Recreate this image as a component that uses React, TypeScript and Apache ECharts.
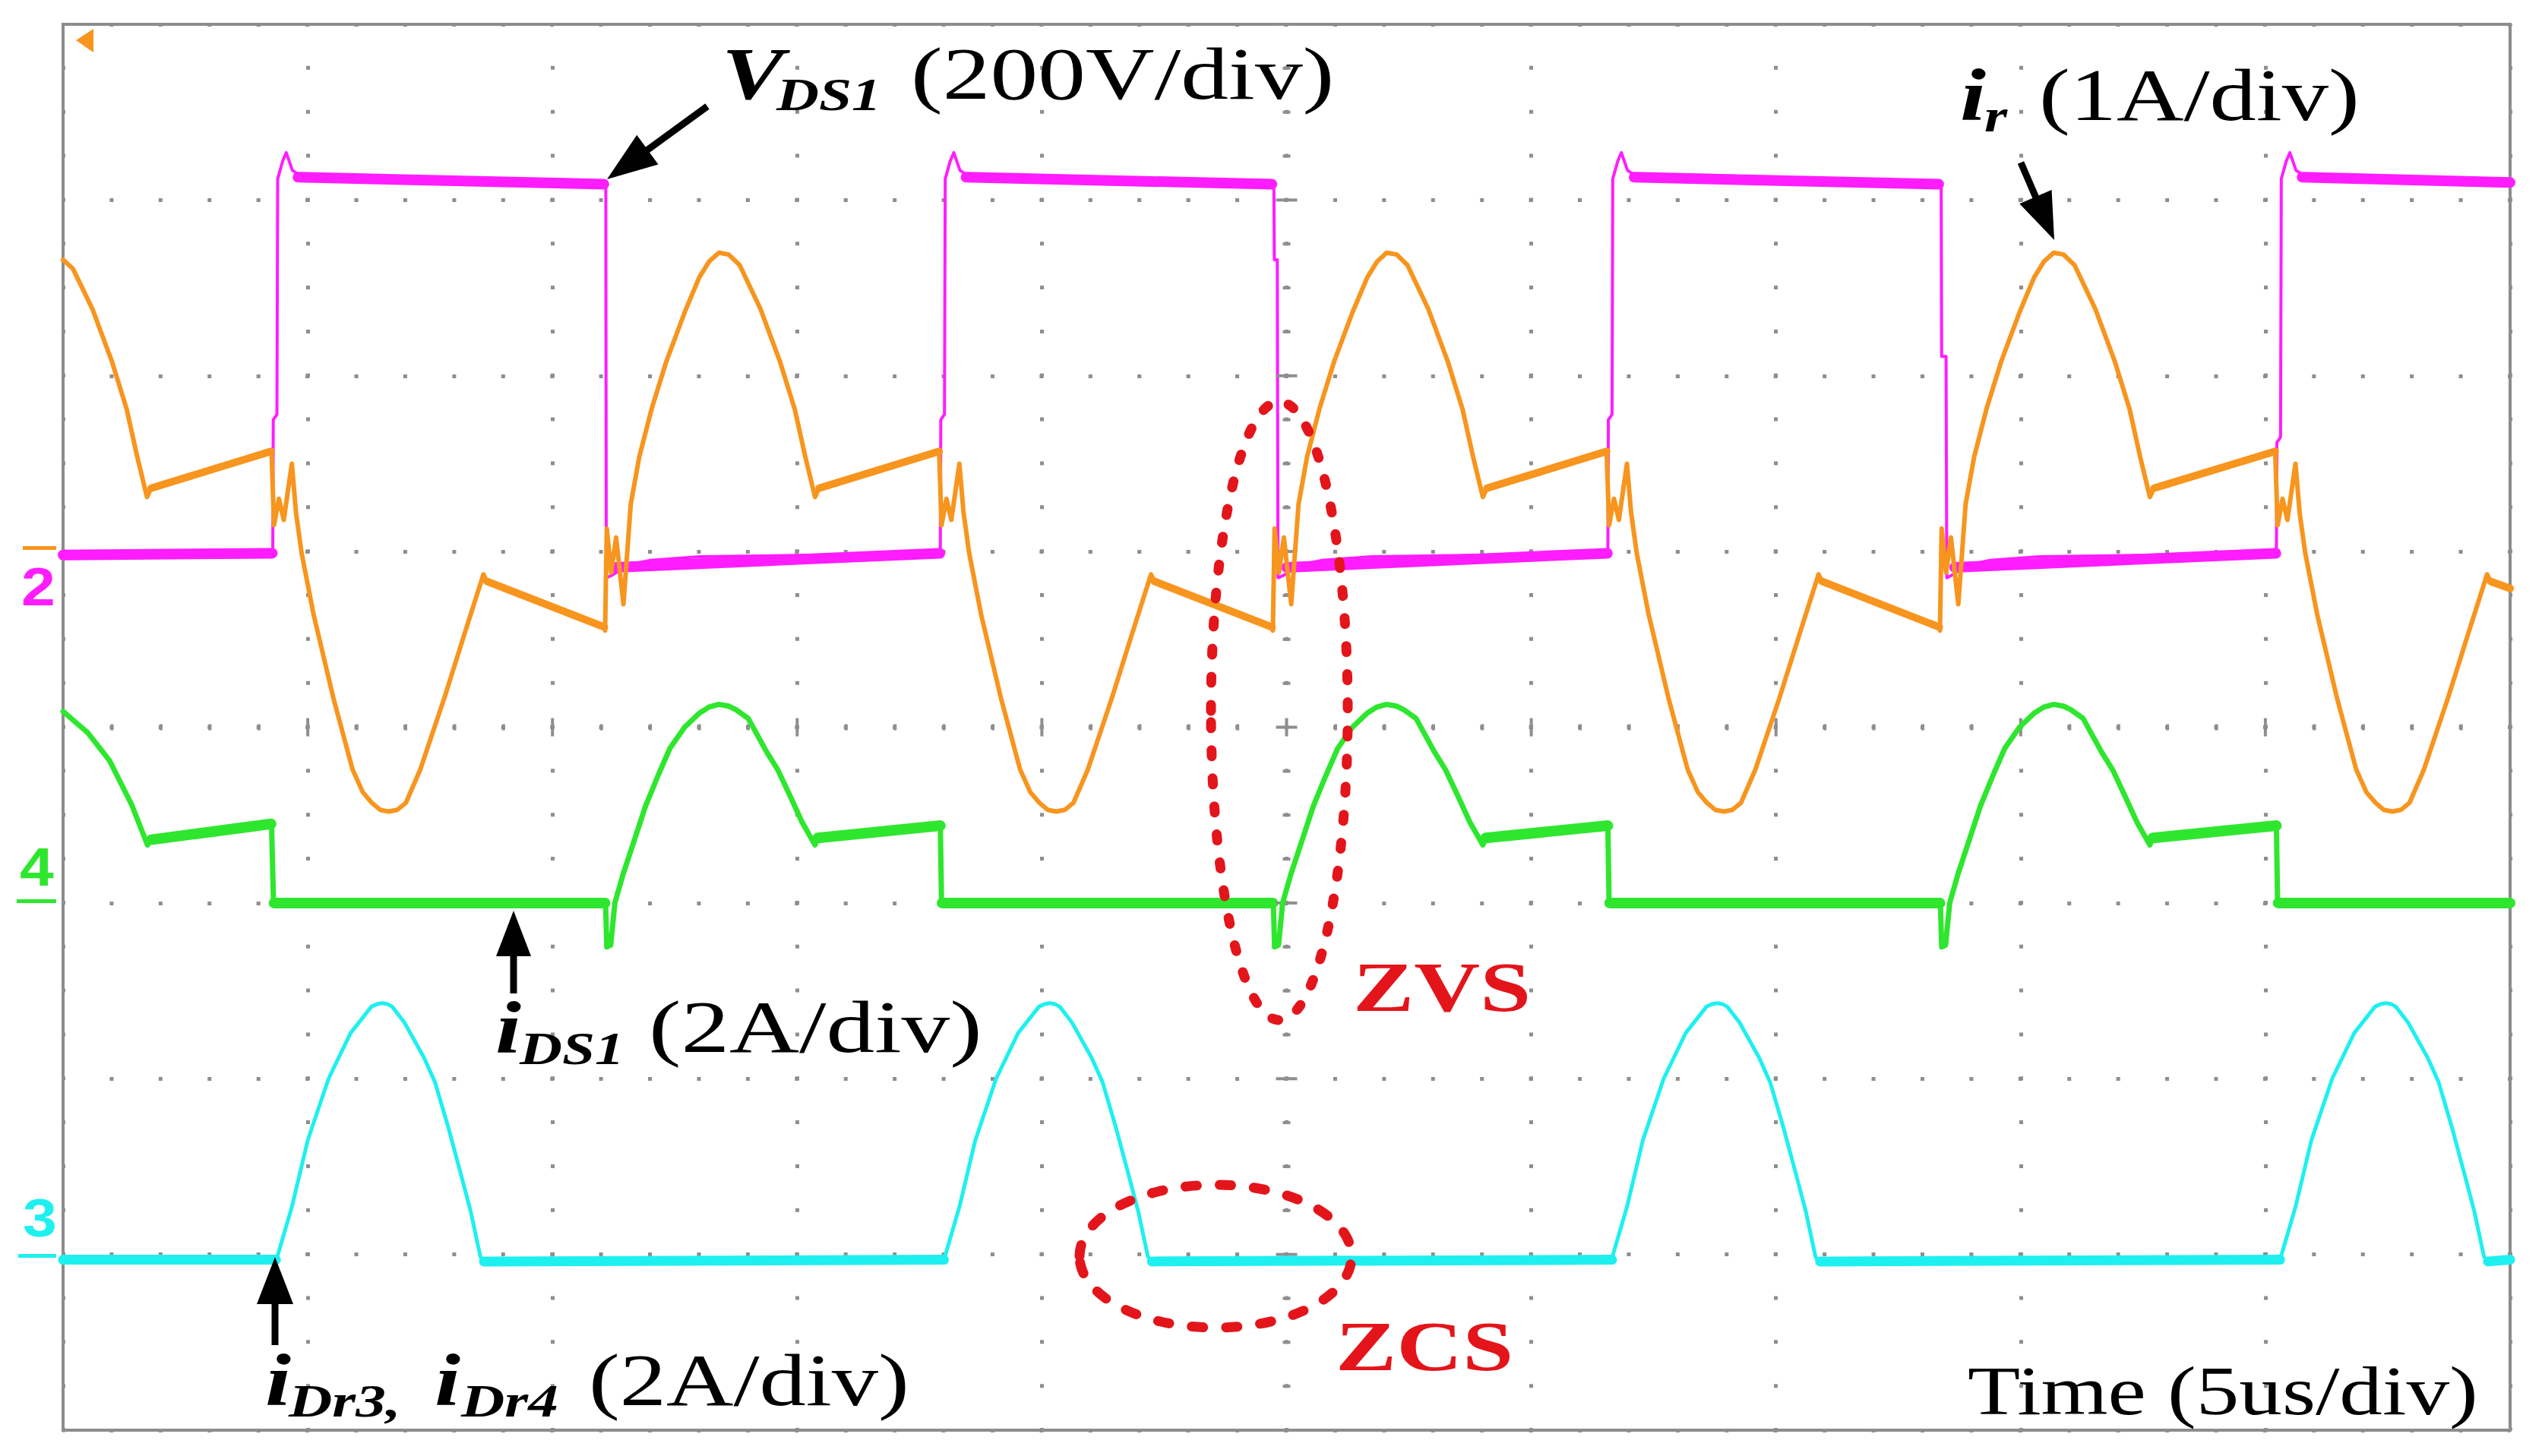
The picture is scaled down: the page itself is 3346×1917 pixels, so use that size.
import React, { useEffect, useRef } from "react";
import * as echarts from "echarts";

// ---- Data (x: time in divisions, 5 us/div; y: screen divisions from bottom, 0..8) ----
const xDivisions = [0, 10];
const yDivisions = [0, 8];

// V_DS1 (magenta, channel 2)
const vds1Trace: [number, number][] = [
  [0, 4.98], [0.857, 4.99], [0.859, 5.75], [0.874, 5.78], [0.877, 7.12], [0.897, 7.22], [0.912, 7.27], [0.937, 7.17], [0.977, 7.13], [1.06, 7.11], [2.2, 7.09], [2.218, 7.08], [2.22, 4.85], [2.25, 4.87], [2.3, 4.92], [2.4, 4.95], [2.6, 4.97], [3.585, 4.99],
  [3.587, 5.75], [3.602, 5.78], [3.605, 7.12], [3.625, 7.22], [3.64, 7.27], [3.665, 7.17], [3.705, 7.13], [3.79, 7.11], [4.93, 7.09], [4.948, 7.08], [4.95, 6.66], [4.962, 6.66], [4.965, 4.85], [4.995, 4.87], [5.045, 4.92], [5.145, 4.95], [5.345, 4.97], [6.313, 4.99],
  [6.315, 5.75], [6.33, 5.78], [6.333, 7.12], [6.353, 7.22], [6.368, 7.27], [6.393, 7.17], [6.433, 7.13], [6.52, 7.11], [7.66, 7.09], [7.675, 7.08], [7.677, 6.11], [7.695, 6.11], [7.698, 4.85], [7.725, 4.87], [7.775, 4.92], [7.875, 4.95], [8.075, 4.97], [9.045, 4.99],
  [9.047, 5.62], [9.062, 5.65], [9.065, 7.12], [9.085, 7.22], [9.1, 7.27], [9.125, 7.17], [9.165, 7.13], [9.25, 7.11], [10, 7.1],
];

// i_r (orange, channel 1)
const irTrace: [number, number][] = [
  [0, 6.66], [0.04, 6.61], [0.12, 6.38], [0.2, 6.08], [0.26, 5.81], [0.303, 5.54], [0.343, 5.31], [0.36, 5.36], [0.852, 5.57],
  [0.862, 5.15], [0.882, 5.3], [0.902, 5.18], [0.935, 5.5], [0.952, 5.22], [0.975, 4.99], [1.024, 4.64], [1.104, 4.17], [1.183, 3.76], [1.225, 3.63], [1.262, 3.57], [1.296, 3.53], [1.331, 3.52], [1.366, 3.53], [1.401, 3.57], [1.46, 3.76], [1.559, 4.17], [1.638, 4.52], [1.718, 4.87], [1.732, 4.83], [2.212, 4.57],
  [2.215, 4.55], [2.222, 5.13], [2.24, 4.88], [2.26, 5.08], [2.29, 4.7], [2.32, 5.27], [2.355, 5.54], [2.405, 5.81], [2.465, 6.08], [2.54, 6.36], [2.6, 6.56], [2.64, 6.65], [2.68, 6.7], [2.72, 6.69], [2.765, 6.63], [2.85, 6.38], [2.93, 6.08], [2.99, 5.81], [3.033, 5.54], [3.073, 5.31], [3.09, 5.36], [3.58, 5.57],
  [3.59, 5.15], [3.61, 5.3], [3.63, 5.18], [3.663, 5.5], [3.68, 5.22], [3.703, 4.99], [3.752, 4.64], [3.832, 4.17], [3.911, 3.76], [3.953, 3.63], [3.99, 3.57], [4.024, 3.53], [4.059, 3.52], [4.094, 3.53], [4.129, 3.57], [4.188, 3.76], [4.287, 4.17], [4.366, 4.52], [4.446, 4.87], [4.46, 4.83], [4.94, 4.57],
  [4.944, 4.55], [4.951, 5.13], [4.969, 4.88], [4.989, 5.08], [5.019, 4.7], [5.049, 5.27], [5.084, 5.54], [5.134, 5.81], [5.194, 6.08], [5.269, 6.36], [5.33, 6.56], [5.37, 6.65], [5.409, 6.7], [5.45, 6.69], [5.494, 6.63], [5.579, 6.38], [5.659, 6.08], [5.719, 5.81], [5.762, 5.54], [5.802, 5.31], [5.819, 5.36], [6.308, 5.57],
  [6.318, 5.15], [6.338, 5.3], [6.358, 5.18], [6.391, 5.5], [6.408, 5.22], [6.431, 4.99], [6.48, 4.64], [6.56, 4.17], [6.639, 3.76], [6.681, 3.63], [6.718, 3.57], [6.752, 3.53], [6.787, 3.52], [6.822, 3.53], [6.857, 3.57], [6.916, 3.76], [7.015, 4.17], [7.094, 4.52], [7.174, 4.87], [7.188, 4.83], [7.667, 4.57],
  [7.67, 4.55], [7.677, 5.13], [7.695, 4.88], [7.715, 5.08], [7.745, 4.7], [7.775, 5.27], [7.81, 5.54], [7.86, 5.81], [7.92, 6.08], [7.995, 6.36], [8.055, 6.56], [8.095, 6.65], [8.135, 6.7], [8.175, 6.69], [8.22, 6.63], [8.305, 6.38], [8.385, 6.08], [8.445, 5.81], [8.488, 5.54], [8.528, 5.31], [8.545, 5.36], [9.04, 5.57],
  [9.05, 5.15], [9.07, 5.3], [9.09, 5.18], [9.123, 5.5], [9.14, 5.22], [9.163, 4.99], [9.212, 4.64], [9.292, 4.17], [9.371, 3.76], [9.413, 3.63], [9.45, 3.57], [9.484, 3.53], [9.519, 3.52], [9.554, 3.53], [9.589, 3.57], [9.648, 3.76], [9.747, 4.17], [9.826, 4.52], [9.906, 4.87], [9.92, 4.83], [10, 4.79],
];

// i_DS1 (green, channel 4)
const ids1Trace: [number, number][] = [
  [0, 4.09], [0.05, 4.03], [0.1, 3.97], [0.19, 3.81], [0.28, 3.56], [0.345, 3.33], [0.36, 3.36], [0.852, 3.45],
  [0.86, 3.0], [2.217, 3.0], [2.222, 2.75], [2.238, 2.76], [2.255, 3.0], [2.29, 3.17], [2.34, 3.38], [2.38, 3.55], [2.43, 3.72], [2.48, 3.88], [2.54, 4.0], [2.6, 4.08], [2.64, 4.115], [2.68, 4.13], [2.72, 4.12], [2.75, 4.1], [2.8, 4.05], [2.875, 3.86], [2.92, 3.76], [2.974, 3.6], [3.02, 3.46], [3.073, 3.33], [3.085, 3.37], [3.585, 3.44],
  [3.59, 3.0], [4.946, 3.0], [4.951, 2.75], [4.967, 2.76], [4.984, 3.0], [5.019, 3.17], [5.069, 3.38], [5.109, 3.55], [5.159, 3.72], [5.209, 3.88], [5.269, 4.0], [5.329, 4.08], [5.369, 4.115], [5.409, 4.13], [5.449, 4.12], [5.479, 4.1], [5.529, 4.05], [5.604, 3.86], [5.649, 3.76], [5.703, 3.6], [5.749, 3.46], [5.802, 3.33], [5.814, 3.37], [6.313, 3.44],
  [6.318, 3.0], [7.672, 3.0], [7.677, 2.75], [7.693, 2.76], [7.71, 3.0], [7.745, 3.17], [7.795, 3.38], [7.835, 3.55], [7.885, 3.72], [7.935, 3.88], [7.995, 4.0], [8.055, 4.08], [8.095, 4.115], [8.135, 4.13], [8.175, 4.12], [8.205, 4.1], [8.255, 4.05], [8.33, 3.86], [8.375, 3.76], [8.429, 3.6], [8.475, 3.46], [8.528, 3.33], [8.54, 3.37], [9.045, 3.44],
  [9.05, 3.0], [10, 3.0],
];

// i_Dr3, i_Dr4 (cyan, channel 3)
const idrTrace: [number, number][] = [
  [0, 0.97], [0.872, 0.97], [0.935, 1.27], [1.0, 1.65], [1.085, 2.0], [1.175, 2.26], [1.26, 2.41], [1.283, 2.425], [1.305, 2.43], [1.325, 2.425], [1.345, 2.41], [1.395, 2.32], [1.475, 2.12], [1.52, 1.98], [1.575, 1.72], [1.625, 1.46], [1.665, 1.25], [1.705, 0.99], [1.72, 0.95], [1.74, 0.97], [3.6, 0.97],
  [3.663, 1.27], [3.728, 1.65], [3.813, 2.0], [3.903, 2.26], [3.988, 2.41], [4.011, 2.425], [4.033, 2.43], [4.053, 2.425], [4.073, 2.41], [4.123, 2.32], [4.203, 2.12], [4.248, 1.98], [4.303, 1.72], [4.353, 1.46], [4.393, 1.25], [4.433, 0.99], [4.448, 0.95], [4.468, 0.97], [6.328, 0.97],
  [6.391, 1.27], [6.456, 1.65], [6.541, 2.0], [6.631, 2.26], [6.716, 2.41], [6.739, 2.425], [6.761, 2.43], [6.781, 2.425], [6.801, 2.41], [6.851, 2.32], [6.931, 2.12], [6.976, 1.98], [7.031, 1.72], [7.081, 1.46], [7.121, 1.25], [7.161, 0.99], [7.176, 0.95], [7.196, 0.97], [9.06, 0.97],
  [9.123, 1.27], [9.188, 1.65], [9.273, 2.0], [9.363, 2.26], [9.448, 2.41], [9.471, 2.425], [9.493, 2.43], [9.513, 2.425], [9.533, 2.41], [9.583, 2.32], [9.663, 2.12], [9.708, 1.98], [9.763, 1.72], [9.813, 1.46], [9.853, 1.25], [9.893, 0.99], [9.908, 0.95], [9.928, 0.97], [10, 0.97],
];

// Noisy flat stretches drawn as thicker bands: [x0, y0, x1, y1]
const vds1Noise: number[][] = [
  [0.96, 7.13, 2.21, 7.09], [3.69, 7.13, 4.94, 7.09], [6.42, 7.13, 7.665, 7.09], [9.15, 7.13, 10, 7.1],
  [0, 4.98, 0.855, 4.99], [2.26, 4.91, 3.583, 4.99], [5.0, 4.91, 6.311, 4.99], [7.73, 4.91, 9.043, 4.99],
];
const irNoise: number[][] = [
  [0.36, 5.36, 0.85, 5.57], [1.732, 4.83, 2.212, 4.57], [3.09, 5.36, 3.58, 5.57], [4.46, 4.83, 4.94, 4.57],
  [5.819, 5.36, 6.308, 5.57], [7.188, 4.83, 7.667, 4.57], [8.545, 5.36, 9.04, 5.57], [9.92, 4.83, 10, 4.79],
];
const ids1Noise: number[][] = [
  [0.862, 3.0, 2.215, 3.0], [3.592, 3.0, 4.944, 3.0], [6.32, 3.0, 7.67, 3.0], [9.052, 3.0, 10, 3.0],
  [0.36, 3.36, 0.85, 3.45], [3.085, 3.37, 3.585, 3.44], [5.814, 3.37, 6.313, 3.44], [8.54, 3.37, 9.045, 3.44],
];
const idrNoise: number[][] = [
  [0, 0.97, 0.87, 0.97], [1.72, 0.96, 3.6, 0.97], [4.45, 0.96, 6.33, 0.97], [7.18, 0.96, 9.06, 0.97], [9.91, 0.96, 10, 0.97],
];

// ---- Layout / style ----
const CW = 3346;
const CH = 1917;
const G = { left: 83, top: 32, width: 3221, height: 1851 };
const DIV_X = G.width / 10;
const DIV_Y = G.height / 8;

const C_MAG = "#ff1dff";
const C_ORA = "#f7951e";
const C_GRN = "#2fe62f";
const C_CYN = "#1ef0f0";
const C_RED = "#e3151b";
const C_GRID = "#8e8e8e";
const SERIF = '"Liberation Serif", "Times New Roman", serif';
const SANS = '"Liberation Sans", Arial, sans-serif';

function bandData(segs: number[][]) {
  const out: any[] = [];
  segs.forEach((s, i) => {
    if (i > 0) out.push(["-", "-"]);
    out.push([s[0], s[1]], [s[2], s[3]]);
  });
  return out;
}

function traceSeries(name: string, data: any[], color: string, width: number, z: number) {
  return {
    type: "line",
    name,
    data,
    showSymbol: false,
    symbol: "none",
    silent: true,
    z,
    connectNulls: false,
    lineStyle: { color, width, cap: "round", join: "round" },
  };
}

function textEl(text: string, x: number, baseline: number, size: number, opt: { italic?: boolean; bold?: boolean; fill?: string; scaleX?: number; family?: string }) {
  const font = `${opt.italic ? "italic " : ""}${opt.bold ? "bold " : ""}${size}px ${opt.family || SERIF}`;
  return {
    type: "text",
    x,
    y: baseline - 0.34 * size,
    scaleX: opt.scaleX ?? 1.26,
    z: 300,
    silent: true,
    style: {
      text,
      font,
      fill: opt.fill || "#000",
      textAlign: "left",
      textVerticalAlign: "middle",
      verticalAlign: "middle",
      align: "left",
    },
  };
}

function arrowEls(x1: number, y1: number, x2: number, y2: number, L: number, Wd: number, lw: number) {
  const dx = x2 - x1;
  const dy = y2 - y1;
  const len = Math.hypot(dx, dy);
  const ux = dx / len;
  const uy = dy / len;
  const bx = x2 - ux * L;
  const by = y2 - uy * L;
  const px = -uy;
  const py = ux;
  return [
    { type: "line", z: 290, silent: true, shape: { x1, y1, x2: bx + ux * 4, y2: by + uy * 4 }, style: { stroke: "#000", lineWidth: lw } },
    {
      type: "polygon",
      z: 291,
      silent: true,
      shape: { points: [[x2, y2], [bx + (px * Wd) / 2, by + (py * Wd) / 2], [bx - (px * Wd) / 2, by - (py * Wd) / 2]] },
      style: { fill: "#000" },
    },
  ];
}

function crosshairEls() {
  const els: any[] = [];
  const cx = G.left + 5 * DIV_X;
  const cy = G.top + 4 * DIV_Y;
  for (let i = 0; i <= 32; i++) {
    const y = G.top + (i * DIV_Y) / 4;
    const major = i % 4 === 0;
    const w = major ? 28 : 10;
    els.push({ type: "rect", z: 5, silent: true, shape: { x: cx - w / 2, y: y - 2, width: w, height: 4 }, style: { fill: C_GRID } });
  }
  for (let i = 0; i <= 50; i++) {
    const x = G.left + (i * DIV_X) / 5;
    const major = i % 5 === 0;
    const h = major ? 24 : 8;
    els.push({ type: "rect", z: 5, silent: true, shape: { x: x - 2, y: cy - h / 2, width: 4, height: h }, style: { fill: C_GRID } });
  }
  return els;
}

export default function App() {
  const ref = useRef<HTMLDivElement>(null);
  useEffect(() => {
    if (!ref.current) return;
    const chart = echarts.init(ref.current, null, { renderer: "svg" });
    const graphics: any[] = [
      ...crosshairEls(),
      // trigger marker
      { type: "polygon", z: 50, silent: true, shape: { points: [[100, 53], [123, 38], [123, 69]] }, style: { fill: C_ORA } },
      // channel markers
      { type: "rect", z: 50, silent: true, shape: { x: 30, y: 719, width: 44, height: 5 }, style: { fill: C_ORA } },
      textEl("2", 28, 797, 70, { bold: true, fill: C_MAG, family: SANS, scaleX: 1.15 }),
      textEl("4", 26, 1166, 70, { bold: true, fill: C_GRN, family: SANS, scaleX: 1.15 }),
      { type: "rect", z: 50, silent: true, shape: { x: 22, y: 1184, width: 52, height: 5 }, style: { fill: C_GRN } },
      textEl("3", 30, 1628, 70, { bold: true, fill: C_CYN, family: SANS, scaleX: 1.15 }),
      { type: "rect", z: 50, silent: true, shape: { x: 24, y: 1651, width: 50, height: 5 }, style: { fill: C_CYN } },
      // ZVS / ZCS ellipses
      {
        type: "ellipse", z: 280, silent: true,
        shape: { cx: 1684, cy: 936, rx: 90, ry: 407 },
        style: { fill: "none", stroke: C_RED, lineWidth: 13, lineDash: [8, 29], lineCap: "round" },
      },
      {
        type: "ellipse", z: 280, silent: true,
        shape: { cx: 1600, cy: 1654, rx: 179, ry: 94 },
        style: { fill: "none", stroke: C_RED, lineWidth: 13, lineDash: [15, 30], lineCap: "round" },
      },
      textEl("ZVS", 1781, 1331, 94, { bold: true, fill: C_RED, scaleX: 1.28 }),
      textEl("ZCS", 1758, 1804, 94, { bold: true, fill: C_RED, scaleX: 1.28 }),
      // labels
      textEl("V", 950, 130, 98, { italic: true, bold: true, scaleX: 1.25 }),
      textEl("DS1", 1022, 145, 62, { italic: true, bold: true, scaleX: 1.25 }),
      textEl("(200V/div)", 1199, 130, 98, { scaleX: 1.28 }),
      textEl("i", 2580, 158, 98, { italic: true, bold: true, scaleX: 1.25 }),
      textEl("r", 2612, 173, 62, { italic: true, bold: true, scaleX: 1.25 }),
      textEl("(1A/div)", 2684, 158, 98, { scaleX: 1.25 }),
      textEl("i", 652, 1386, 98, { italic: true, bold: true, scaleX: 1.25 }),
      textEl("DS1", 684, 1401, 62, { italic: true, bold: true, scaleX: 1.25 }),
      textEl("(2A/div)", 854, 1386, 98, { scaleX: 1.3 }),
      textEl("i", 349, 1850, 98, { italic: true, bold: true, scaleX: 1.25 }),
      textEl("Dr3,", 380, 1865, 62, { italic: true, bold: true, scaleX: 1.28 }),
      textEl("i", 572, 1850, 98, { italic: true, bold: true, scaleX: 1.25 }),
      textEl("Dr4", 607, 1865, 62, { italic: true, bold: true, scaleX: 1.28 }),
      textEl("(2A/div)", 775, 1850, 98, { scaleX: 1.25 }),
      textEl("Time (5us/div)", 2590, 1862, 92, { scaleX: 1.23 }),
      // arrows
      ...arrowEls(931, 140, 799, 236, 66, 48, 9),
      ...arrowEls(2660, 214, 2704, 316, 62, 46, 9),
      ...arrowEls(676, 1308, 676, 1199, 60, 46, 9),
      ...arrowEls(362, 1771, 362, 1655, 62, 48, 9),
    ];

    const option: any = {
      animation: false,
      backgroundColor: "#ffffff",
      grid: {
        left: G.left,
        top: G.top,
        width: G.width,
        height: G.height,
        show: true,
        borderColor: "#8c8c8c",
        borderWidth: 4,
        backgroundColor: "transparent",
      },
      xAxis: {
        type: "value",
        min: xDivisions[0],
        max: xDivisions[1],
        interval: 1,
        axisLine: { show: false },
        axisTick: { show: false },
        axisLabel: { show: false },
        splitLine: { show: true, lineStyle: { color: C_GRID, width: 5, type: [5, DIV_Y / 4 - 5], dashOffset: 2.5 } },
      },
      yAxis: {
        type: "value",
        min: yDivisions[0],
        max: yDivisions[1],
        interval: 1,
        axisLine: { show: false },
        axisTick: { show: false },
        axisLabel: { show: false },
        splitLine: { show: true, lineStyle: { color: C_GRID, width: 5, type: [5, DIV_X / 5 - 5], dashOffset: 2.5 } },
      },
      series: [
        traceSeries("VDS1 noise", bandData(vds1Noise), C_MAG, 14, 2),
        traceSeries("VDS1", vds1Trace, C_MAG, 4, 3),
        traceSeries("iDS1 noise", bandData(ids1Noise), C_GRN, 14, 4),
        traceSeries("iDS1", ids1Trace, C_GRN, 7, 5),
        traceSeries("iDr noise", bandData(idrNoise), C_CYN, 13, 6),
        traceSeries("iDr", idrTrace, C_CYN, 5, 7),
        traceSeries("ir noise", bandData(irNoise), C_ORA, 10, 8),
        traceSeries("ir", irTrace, C_ORA, 6, 9),
      ],
      graphic: { elements: graphics },
    };
    chart.setOption(option);
    return () => chart.dispose();
  }, []);
  return (
    <div
      ref={ref}
      style={{ position: "absolute", left: 0, top: 0, width: CW, height: CH, background: "#fff" }}
    />
  );
}
